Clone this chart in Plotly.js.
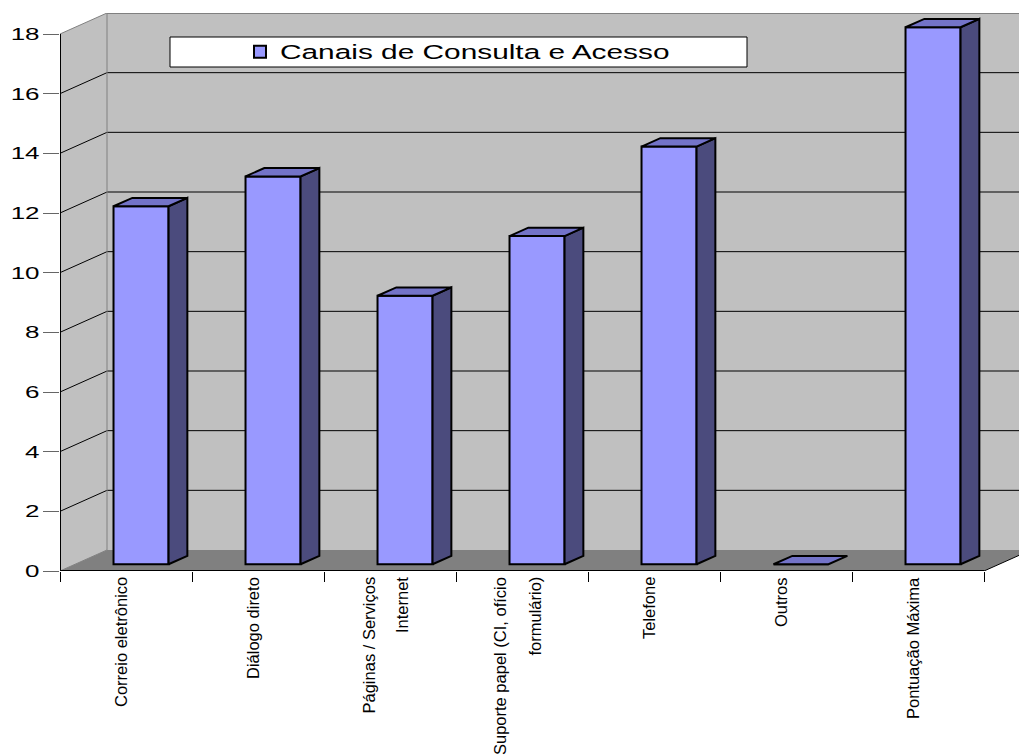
<!DOCTYPE html>
<html>
<head>
<meta charset="utf-8">
<script src="https://cdn.plot.ly/plotly-3.0.1.min.js"></script>
<style>html,body{margin:0;padding:0;background:#fff}</style>
</head>
<body>
<div id="chart" style="width:1019px;height:756px"></div>
<script>
// ---- data ----
const categories = ["Correio eletrônico", "Diálogo direto", "Páginas / Serviços Internet",
  "Suporte papel (CI, ofício formulário)", "Telefone", "Outros", "Pontuação Máxima"];
const tickLabels = [["Correio eletrônico"], ["Diálogo direto"], ["Páginas / Serviços", "Internet"],
  ["Suporte papel (CI, ofício", "formulário)"], ["Telefone"], ["Outros"], ["Pontuação Máxima"]];
const values = [12, 13, 9, 11, 14, 0, 18];
const seriesName = "Canais de Consulta e Acesso";
const yTicks = [0, 2, 4, 6, 8, 10, 12, 14, 16, 18];

// ---- geometry / style ----
const W = 1019, H = 756;
const M = {l: 60, r: 0, t: 13, b: 185};
const PW = W - M.l - M.r, PH = H - M.t - M.b;
const CAT_PX = 132;                 // px per category on the front plane
const Y_PX = 537 / 18;              // px per value unit
const DEPTH_PX = {x: 47, y: 21};    // 3D depth offset of the walls
const Dx = DEPTH_PX.x / CAT_PX;
const Dy = DEPTH_PX.y / Y_PX;
const yMax = yTicks[yTicks.length - 1];
const xMax = PW / CAT_PX;
const yTop = yMax + Dy;
const nCat = categories.length;
const FRONT = 0.32, BAR_DEPTH = 0.40, BAR_W = 0.417;
const FONT = "Liberation Sans, Arial, sans-serif";
const SX = 1.53; // horizontal stretch of horizontal texts in the original
// figure pixel -> paper (plot-area) fraction
const px = x => (x - M.l) / PW;
const py = y => (H - M.b - y) / PH;

const col = {front: '#9999FF', side: '#4B4B7D', top: '#7373C8', wall: '#C0C0C0', floor: '#808080', edge: '#808080'};

// ---- bars ----
const centers = values.map((v, i) => i + 0.5 + FRONT * Dx);
const base = FRONT * Dy;
const dd = BAR_DEPTH * Dx, ddy = BAR_DEPTH * Dy;
const sideX = [], sideY = [], topX = [], topY = [];
values.forEach((v, i) => {
  const xl = centers[i] - BAR_W / 2, xr = centers[i] + BAR_W / 2;
  const y0 = base, y1 = base + v;
  if (v > 0) {
    sideX.push(xr, xr + dd, xr + dd, xr, xr, null);
    sideY.push(y0, y0 + ddy, y1 + ddy, y1, y0, null);
  }
  topX.push(xl, xl + dd, xr + dd, xr, xl, null);
  topY.push(y1, y1 + ddy, y1 + ddy, y1, y1, null);
});

const data = [
  {type: 'bar', x: centers, y: values, base: base, width: BAR_W, name: seriesName,
   marker: {color: col.front, line: {color: '#000', width: 2}}, hoverinfo: 'skip'},
  {type: 'scatter', mode: 'lines', x: sideX, y: sideY, fill: 'toself', fillcolor: col.side,
   line: {color: '#000', width: 2}, showlegend: false, hoverinfo: 'skip'},
  {type: 'scatter', mode: 'lines', x: topX, y: topY, fill: 'toself', fillcolor: col.top,
   line: {color: '#000', width: 2}, showlegend: false, hoverinfo: 'skip'}
];

// ---- walls ----
const shapes = [];
const ln = (x0, y0, x1, y1, color, width) => shapes.push({type: 'line', xref: 'x', yref: 'y',
  x0, y0, x1, y1, line: {color, width}, layer: 'below'});
shapes.push({type: 'path', xref: 'x', yref: 'y', layer: 'below', fillcolor: col.wall, line: {width: 0},
  path: `M${Dx},${Dy} L${xMax + 1},${Dy} L${xMax + 1},${yMax + Dy} L${Dx},${yMax + Dy} Z`});
shapes.push({type: 'path', xref: 'x', yref: 'y', layer: 'below', fillcolor: col.wall, line: {width: 0},
  path: `M0,0 L${Dx},${Dy} L${Dx},${yMax + Dy} L0,${yMax} Z`});
shapes.push({type: 'path', xref: 'x', yref: 'y', layer: 'below', fillcolor: col.floor, line: {width: 0},
  path: `M0,0 L${nCat},0 L${nCat + Dx},${Dy} L${Dx},${Dy} Z`});
yTicks.forEach(v => {
  if (v > 0 && v < yMax) {
    ln(Dx, v + Dy, xMax + 1, v + Dy, '#000', 1);
    ln(0, v, Dx, v + Dy, '#000', 1);
  }
});
ln(Dx, yMax + Dy, xMax + 1, yMax + Dy, col.edge, 2);   // top edge of back wall
ln(Dx, Dy, Dx, yMax + Dy, col.edge, 1);                // back-left corner
ln(0, yMax, Dx, yMax + Dy, col.edge, 1);               // top of side wall
ln(0, 0, Dx, Dy, col.edge, 1);                         // bottom of side wall
ln(0, 0, 0, yMax, '#000', 2);                          // front vertical axis
ln(0, 0, nCat, 0, '#000', 2);                          // front floor edge
ln(nCat, 0, nCat + Dx, Dy, '#000', 1);                 // right floor edge

// legend frame
shapes.push({type: 'rect', xref: 'paper', yref: 'paper', layer: 'above',
  x0: px(170), x1: px(747), y0: py(67), y1: py(37),
  fillcolor: '#fff', line: {color: '#000', width: 1}});

// ---- category labels ----
const annotations = [];
tickLabels.forEach((lines, i) => {
  lines.forEach((t, j) => {
    annotations.push({xref: 'x', yref: 'y', x: i + 0.5, y: 0, text: t, showarrow: false,
      textangle: -90, xanchor: 'center', yanchor: 'top', yshift: -4,
      xshift: -5 + (j - (lines.length - 1) / 2) * 34,
      font: {family: FONT, size: 16.5, color: '#000'}});
  });
});

const layout = {
  width: W, height: H, margin: M,
  paper_bgcolor: '#fff', plot_bgcolor: 'rgba(0,0,0,0)',
  font: {family: FONT, color: '#000'},
  showlegend: true,
  legend: {x: px(240), y: py(52), xanchor: 'left', yanchor: 'middle',
    bgcolor: 'rgba(0,0,0,0)', borderwidth: 0, font: {family: FONT, size: 19.5, color: '#000'}},
  xaxis: {range: [0, xMax], tickvals: Array.from({length: nCat + 1}, (_, k) => k), ticks: 'outside',
    ticklen: 10, tickcolor: '#000', tickwidth: 1, showticklabels: false, showgrid: false,
    zeroline: false, showline: false, fixedrange: true},
  yaxis: {range: [0, yTop], tickvals: yTicks, ticktext: yTicks.map(String), ticks: 'outside',
    ticklen: 16, tickcolor: '#666', tickwidth: 1, showgrid: false, zeroline: false, showline: false,
    tickfont: {family: FONT, size: 17, color: '#000'}, fixedrange: true},
  shapes, annotations
};

function stretch(t, anchor) {
  const bb = t.getBBox();
  const ax = anchor === 'end' ? bb.x + bb.width : bb.x;
  const tr = t.getAttribute('transform') || '';
  t.setAttribute('transform', `${tr} translate(${ax},0) scale(${SX},1) translate(${-ax},0)`);
}

Plotly.newPlot('chart', data, layout, {staticPlot: true, displayModeBar: false}).then(gd => {
  gd.querySelectorAll('.ytick text').forEach(t => stretch(t, 'end'));
  gd.querySelectorAll('.legend .legendtext').forEach(t => stretch(t, 'start'));
  gd.querySelectorAll('.legend, .legend *').forEach(e => {
    e.removeAttribute('clip-path');
    if (e.style) e.style.clipPath = '';
  });
});
</script>
</body>
</html>
